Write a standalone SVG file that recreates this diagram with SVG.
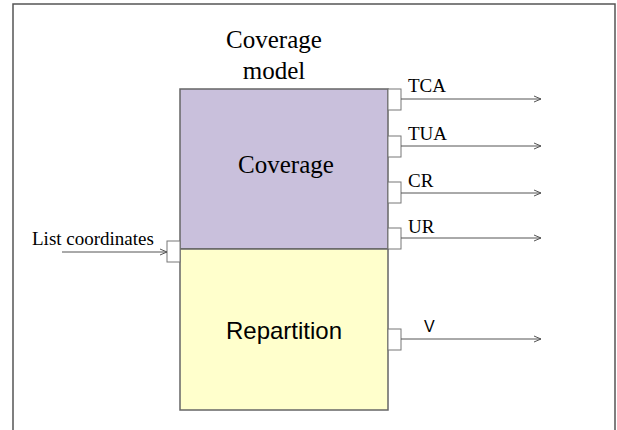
<svg xmlns="http://www.w3.org/2000/svg" width="617" height="430" viewBox="0 0 617 430">
  <defs>
    <marker id="arrow" markerWidth="10" markerHeight="10" refX="8" refY="4" orient="auto" markerUnits="userSpaceOnUse">
      <path d="M1,1 L8,4 L1,7" fill="none" stroke="#555" stroke-width="1"/>
    </marker>
  </defs>
  <style>
    .frame { fill: none; stroke: #555; stroke-width: 1.5; }
    .block { stroke: #666; stroke-width: 1.5; }
    .port { fill: #fff; stroke: #777; stroke-width: 1; }
    .wire { stroke: #555; stroke-width: 1; fill: none; marker-end: url(#arrow); }
    .big { font-family: "Liberation Serif", "Times New Roman", serif; font-size: 25px; fill: #000; text-anchor: middle; }
    .bigsans { font-family: "Liberation Sans", Arial, sans-serif; font-size: 24px; fill: #000; text-anchor: middle; }
    .lbl { font-family: "Liberation Serif", "Times New Roman", serif; font-size: 19px; fill: #000; }
    .sans { font-family: "Liberation Sans", Arial, sans-serif; font-size: 16px; fill: #000; }
  </style>
  <rect width="617" height="430" fill="#fff"/>
  <path class="frame" d="M13,432 V4 H615 V432"/>

  <g id="title">
    <text class="big" x="274" y="48">Coverage</text>
    <text class="big" x="274" y="79">model</text>
  </g>

  <g id="coverage">
    <rect class="block" x="180" y="89" width="208" height="160" fill="#c9c0dc"/>
    <text class="big" x="286" y="173">Coverage</text>
  </g>

  <g id="repartition">
    <rect class="block" x="180" y="249" width="208" height="161" fill="#ffffcc"/>
    <text class="bigsans" x="284" y="339">Repartition</text>
  </g>

  <g id="ports">
    <rect class="port" x="167" y="241" width="13" height="21"/>
    <rect class="port" x="388" y="89" width="13" height="21"/>
    <rect class="port" x="388" y="136" width="13" height="21"/>
    <rect class="port" x="388" y="182" width="13" height="21"/>
    <rect class="port" x="388" y="228" width="13" height="21"/>
    <rect class="port" x="388" y="329" width="13" height="21"/>
  </g>

  <g id="connectors">
    <line class="wire" x1="62" y1="252" x2="167" y2="252"/>
    <line class="wire" x1="401" y1="99" x2="541" y2="99"/>
    <line class="wire" x1="401" y1="146" x2="541" y2="146"/>
    <line class="wire" x1="401" y1="193" x2="541" y2="193"/>
    <line class="wire" x1="401" y1="238" x2="541" y2="238"/>
    <line class="wire" x1="401" y1="339" x2="541" y2="339"/>
  </g>

  <g id="labels">
    <text class="lbl" x="32" y="245">List coordinates</text>
    <text class="lbl" x="408" y="92">TCA</text>
    <text class="lbl" x="408" y="140">TUA</text>
    <text class="lbl" x="408" y="187">CR</text>
    <text class="lbl" x="408" y="233">UR</text>
    <text class="sans" x="424" y="332">V</text>
  </g>
</svg>
